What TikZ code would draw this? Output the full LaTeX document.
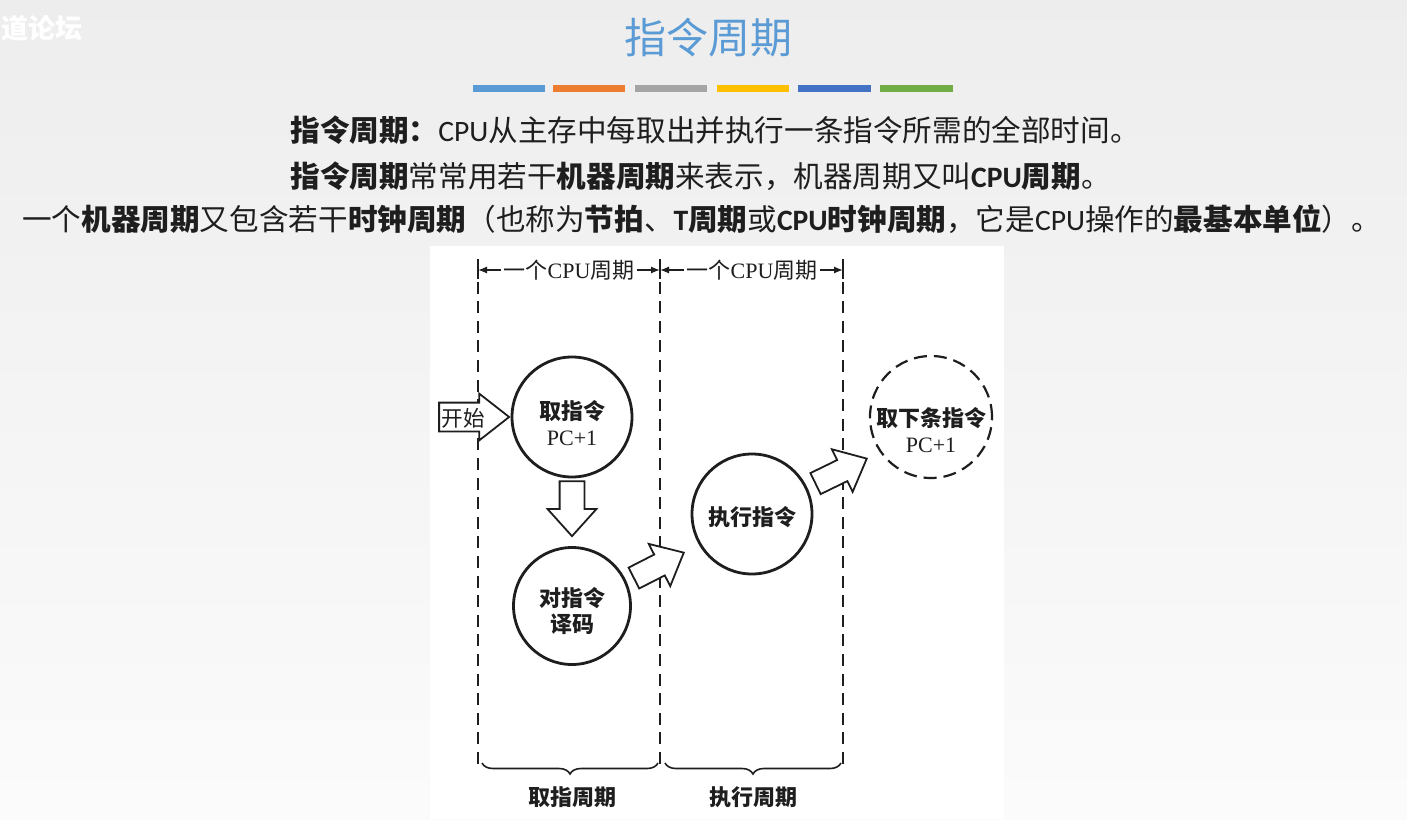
\documentclass[tikz,border=0pt]{standalone}
\usepackage{fontspec}
\setmainfont{Noto Sans CJK SC}
\newfontfamily\carl{Carlito}
\newfontfamily\tms{Liberation Serif}
\usetikzlibrary{shapes.arrows,arrows.meta,decorations.pathreplacing}
\definecolor{titleblue}{HTML}{5B9BD5}
\definecolor{barA}{HTML}{5B9BD5}
\definecolor{barB}{HTML}{ED7D31}
\definecolor{barC}{HTML}{A5A5A5}
\definecolor{barD}{HTML}{FFC000}
\definecolor{barE}{HTML}{4472C4}
\definecolor{barF}{HTML}{70AD47}
\definecolor{ink}{HTML}{1E1E1E}
\newcommand\hbf[1]{{\bfseries #1}}
\newcommand\lat[1]{{\carl #1}}
\newcommand\latb[1]{{\carl\bfseries #1}}
\newcommand\pcfont{\tms\mdseries\fontsize{11pt}{13pt}\selectfont}
\begin{document}
\begin{tikzpicture}[x=0.5pt,y=-0.5pt,
  headline/.style={anchor=west,inner sep=0pt,text=ink,font=\fontsize{14.8pt}{18pt}\selectfont},
  vdash/.style={draw=ink,line width=1pt,dash pattern=on 6pt off 3.8pt},
  tick/.style={draw=ink,line width=1pt},
  dimtext/.style={inner sep=1pt,text=ink,font=\fontsize{11pt}{13pt}\selectfont},
  dimarr/.style={draw=ink,line width=0.8pt,-{Latex[length=4.5pt,width=3.6pt]}},
  circ/.style={circle,draw=ink,line width=1.4pt,fill=white,inner sep=0pt},
  nextcirc/.style={circle,draw=ink,line width=1.1pt,dash pattern=on 6.5pt off 3.5pt,fill=white,inner sep=0pt},
  ctext/.style={align=center,text=ink,inner sep=0pt,font=\bfseries\fontsize{11pt}{13pt}\selectfont},
  blockarr/.style={single arrow,draw=ink,line width=0.9pt,fill=white,minimum width=0pt,inner xsep=0pt},
  brc/.style={draw=ink,line width=0.8pt,decorate,decoration={brace,mirror,amplitude=5.5pt}},
  phase/.style={text=ink,font=\bfseries\fontsize{11pt}{13pt}\selectfont}
]
\useasboundingbox (0,0) rectangle (1407,819);
\fill[top color=black!7,bottom color=black!1.5] (0,0) rectangle (1407,819);
% watermark
\node[anchor=west,inner sep=0pt,text=white,font=\bfseries\fontsize{13.5pt}{16pt}\selectfont] (wm) at (1,28) {道论坛};
% title
\node[text=titleblue,inner sep=0pt,font=\fontsize{21pt}{25pt}\selectfont] (title) at (708,38) {指令周期};
\fill[barA] (473,85) rectangle (545,92);
\fill[barB] (553,85) rectangle (625,92);
\fill[barC] (635,85) rectangle (707,92);
\fill[barD] (717,85) rectangle (789,92);
\fill[barE] (798,85) rectangle (871,92);
\fill[barF] (880,85) rectangle (953,92);
% header lines
\node[headline] (l1) at (290,130) {\hbf{指令周期：}\lat{CPU}从主存中每取出并执行一条指令所需的全部时间。};
\node[headline] (l2) at (290,176) {\hbf{指令周期}常常用若干\hbf{机器周期}来表示，机器周期又叫\latb{CPU}\hbf{周期}。};
\node[headline] (l3) at (22,219) {一个\hbf{机器周期}又包含若干\hbf{时钟周期}（也称为\hbf{节拍}、\latb{T}\hbf{周期}或\latb{CPU}\hbf{时钟周期}，它是\lat{CPU}操作的\hbf{最基本单位}）。};
% panel
\fill[white] (430,246) rectangle (1004,819);
% vertical dashed lines
\coordinate (t1) at (478,262); \coordinate (b1) at (478,767);
\coordinate (t2) at (660,262); \coordinate (b2) at (660,767);
\coordinate (t3) at (843,262); \coordinate (b3) at (843,767);
\draw[vdash] (t1) -- (b1);
\draw[vdash] (t2) -- (b2);
\draw[vdash] (t3) -- (b3);
\draw[tick] (478,259) -- (478,279);
\draw[tick] (660,259) -- (660,279);
\draw[tick] (843,259) -- (843,279);
% dimension labels
\coordinate (m1) at (478,270); \coordinate (m2) at (660,270); \coordinate (m3) at (843,270);
\node[dimtext] (d1) at (569,270) {一个{\tms CPU}周期};
\node[dimtext] (d2) at (752,270) {一个{\tms CPU}周期};
\draw[dimarr] (d1.west) -- (m1);
\draw[dimarr] (d1.east) -- (m2);
\draw[dimarr] (d2.west) -- (m2);
\draw[dimarr] (d2.east) -- (m3);
% circles
\node[circ,minimum size=60pt,label={[ctext,yshift=-3pt]center:取指令\\{\pcfont PC+1}}] (fetch) at (572,417) {};
\node[circ,minimum size=58.5pt,label={[ctext,yshift=-2.5pt]center:对指令\\译码}] (decode) at (572,606) {};
\node[circ,minimum size=60pt,label={[ctext,yshift=-1.5pt]center:执行指令}] (exec) at (752,514) {};
\node[nextcirc,minimum size=61pt,label={[ctext,yshift=-6.5pt]center:取下条指令\\{\pcfont PC+1}}] (next) at (931,417) {};
% block arrows
\node[blockarr,inner ysep=6.75pt,single arrow head extend=4.5pt,single arrow tip angle=76,minimum height=35pt,anchor=tip] (startarr) at (fetch.west) {};
\node[text=ink,inner sep=0pt,font=\fontsize{10.8pt}{13pt}\selectfont] (starttxt) at (463,418) {开始};
\node[blockarr,rotate=-90,inner ysep=5.75pt,single arrow head extend=6pt,single arrow tip angle=84,minimum height=27.5pt,anchor=tip] (downarr) at ([yshift=4.3pt]decode.north) {};
\coordinate (p1) at (685,552);
\coordinate (p2) at (868,458);
\node[blockarr,rotate=27,inner ysep=5.4pt,single arrow head extend=6pt,single arrow tip angle=82,minimum height=28pt,anchor=tip] (arr1) at (p1) {};
\node[blockarr,rotate=26,inner ysep=5.4pt,single arrow head extend=6pt,single arrow tip angle=82,minimum height=28.5pt,anchor=tip] (arr2) at (p2) {};
% braces
\draw[brc] (482,763) -- (658,763);
\draw[brc] (665,763) -- (841,763);
\node[phase] (ph1) at (572,797) {取指周期};
\node[phase] (ph2) at (753,797) {执行周期};
\end{tikzpicture}
\end{document}
